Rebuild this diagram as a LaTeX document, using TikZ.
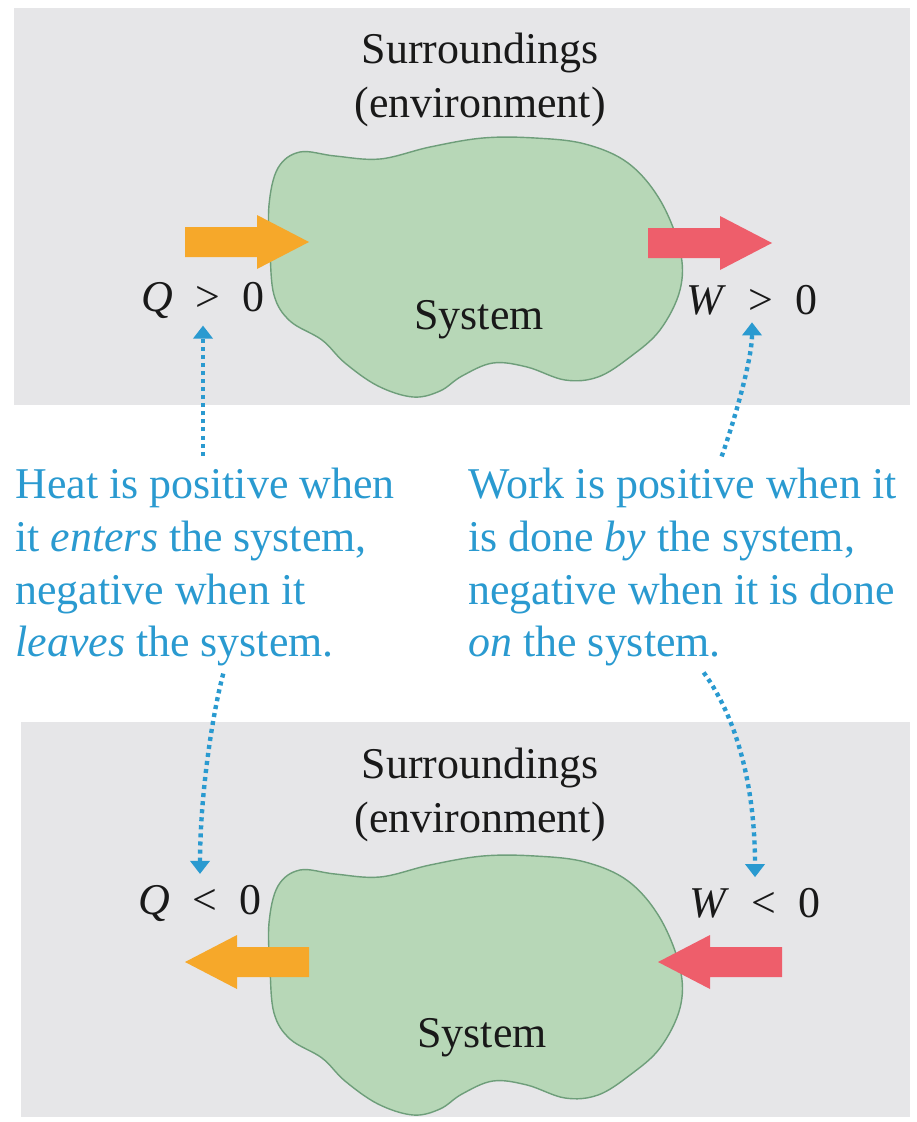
\documentclass[tikz,border=0pt]{standalone}
\usepackage{fontspec}
\setmainfont{Liberation Serif}
\usetikzlibrary{arrows.meta,calc}
\definecolor{panelgray}{HTML}{E6E6E8}
\definecolor{blobfill}{HTML}{B7D7B7}
\definecolor{blobline}{HTML}{6E9E7A}
\definecolor{heatorange}{HTML}{F6A82A}
\definecolor{workred}{HTML}{EE5E6B}
\definecolor{noteblue}{HTML}{2A9AD0}
\begin{document}
\begin{tikzpicture}[x=0.02cm,y=-0.02cm,
	darktext/.style={text=black!90,inner sep=0pt,font=\fontsize{25}{31}\selectfont},
	notetext/.style={text=noteblue,inner sep=0pt,align=left,anchor=north west,font=\fontsize{25}{30}\selectfont},
	dotarrow/.style={draw=noteblue,line width=2.5pt,dash pattern=on 2.3pt off 2.3pt,-{Triangle[width=11pt,length=7.5pt]}}]
	\useasboundingbox (0,0) rectangle (916,1122);
	% Nen xam cua hai khung
	\fill[panelgray] (14,8) rectangle (910,405);
	\fill[panelgray] (21,722) rectangle (910,1117);
	% Lenh ve he (khoi mau xanh)
	\def\drawsystem#1{
		\begin{scope}[shift={(0,#1)}]
			\filldraw[fill=blobfill,draw=blobline,line width=0.8pt] plot[smooth cycle,tension=0.6] coordinates {
				(278,168) (300,152) (335,156) (380,159) (430,147) (483,138) (535,138) (585,144)
				(628,163) (660,200) (680,250) (680,290) (660,330) (630,357) (598,377) (565,380)
				(527,367) (493,363) (462,376) (440,391) (413,397) (378,386) (345,363) (322,340)
				(290,321) (274,295) (270,250) (269,205)};
		\end{scope}
	}
	% Lenh ve mui ten dac (#3 = 1 sang phai, -1 sang trai)
	\def\fatarrow#1#2#3#4{
		\begin{scope}[shift={(#1,#2)},xscale=#3]
			\fill[#4] (0,-15) -- (72,-15) -- (72,-27) -- (124,0) -- (72,27) -- (72,15) -- (0,15) -- cycle;
		\end{scope}
	}
	% Khung tren: Q > 0, W > 0
	\drawsystem{0}
	\fatarrow{185}{242}{1}{heatorange}
	\fatarrow{648}{243}{1}{workred}
	\node[darktext,align=center] (surtop) at (480,80) {Surroundings\\(environment)};
	\node[darktext] (systop) at (479,320) {System};
	\node[darktext] (qpos) at (203,300) {\textit{Q}\enspace>\enspace0};
	\node[darktext] (wpos) at (752,300) {\textit{W}\enspace>\enspace0};
	% Khung duoi: Q < 0, W < 0
	\drawsystem{718}
	\fatarrow{309}{962}{-1}{heatorange}
	\fatarrow{782}{962}{-1}{workred}
	\node[darktext,align=center] (surbot) at (480,795) {Surroundings\\(environment)};
	\node[darktext] (sysbot) at (482,1038) {System};
	\node[darktext] (qneg) at (200,903) {\textit{Q}\enspace<\enspace0};
	\node[darktext] (wneg) at (755,903) {\textit{W}\enspace<\enspace0};
	% Ghi chu mau xanh
	\node[notetext] (heat) at (15,468) {Heat is positive when\\it \textit{enters} the system,\\negative when it\\\textit{leaves} the system.};
	\node[notetext] (work) at (468,468) {Work is positive when it\\is done \textit{by} the system,\\negative when it is done\\\textit{on} the system.};
	% Mui ten cham
	\draw[dotarrow,shorten <=7pt,shorten >=4pt] (heat.north -| qpos.south) -- (qpos.south);
	\draw[dotarrow,shorten <=7pt,shorten >=4pt] ($(work.north)+(35,0)$) .. controls +(16,-45) and +(0,45) .. (wpos.south);
	\draw[dotarrow,shorten <=4pt,shorten >=6pt] ($(heat.south)+(20,0)$) .. controls +(-15,57) and +(0,-80) .. (qneg.north);
	\draw[dotarrow,shorten <=4pt,shorten >=6pt] ($(work.south)+(17,0)$) .. controls +(40,55) and +(0,-95) .. (wneg.north);
\end{tikzpicture}
\end{document}
